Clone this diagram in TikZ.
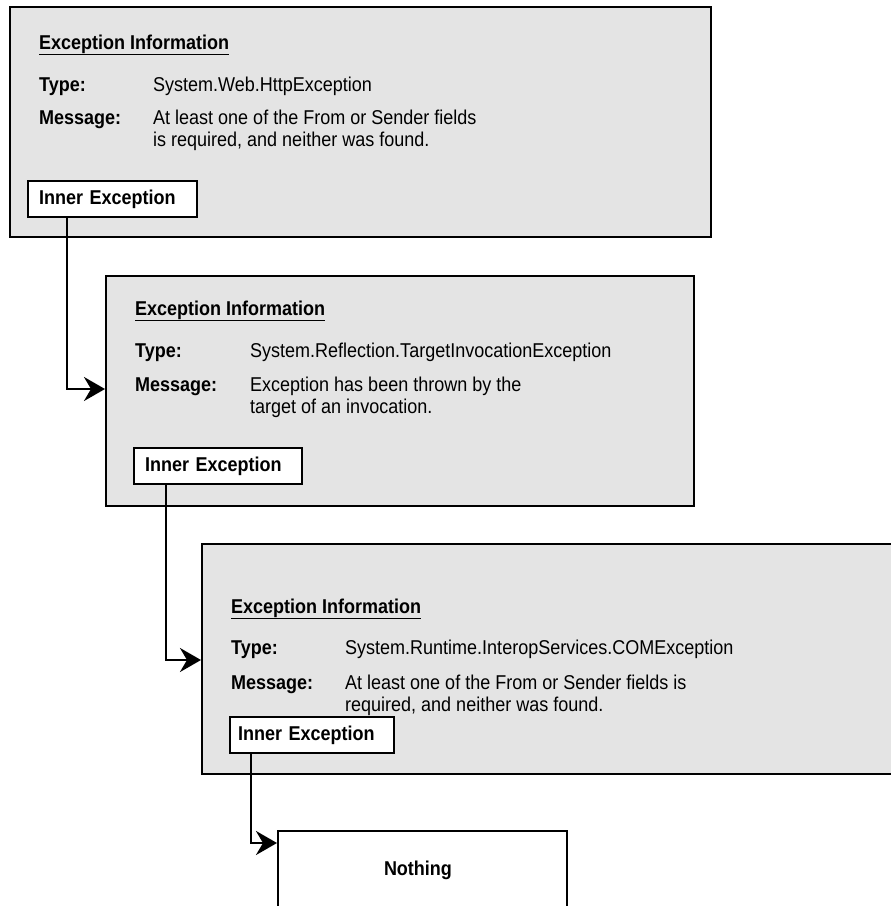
\documentclass[tikz,border=0pt]{standalone}
\usepackage{fontspec}
\setmainfont[FakeStretch=0.9]{Liberation Sans}
\usetikzlibrary{arrows.meta}
\usetikzlibrary{positioning}
\definecolor{boxgray}{RGB}{228,228,228}
\newcommand{\diagsize}{\fontsize{20}{22}\selectfont}
\tikzset{
    excbox/.style={
        draw, fill=boxgray, line width=2pt,
        anchor=north west, minimum height=230pt, inner sep=0pt
    },
    innerbox/.style={
        draw, fill=white, line width=2pt, anchor=north west,
        minimum height=36pt, inner xsep=11pt, inner ysep=0pt,
        align=left, font=\diagsize\bfseries
    },
    fieldname/.style={
        anchor=base west, inner sep=0pt, font=\diagsize\bfseries
    },
    fieldtext/.style={
        anchor=base west, inner sep=0pt
    },
    link/.style={
        line width=2.5pt,
        -{Stealth[length=21pt,width=24pt,inset=7pt]}
    }
}

\begin{document}
\begin{tikzpicture}[x=1pt, y=-1pt, font=\diagsize]
\clip (0,0) rectangle (891,906);

% Kasten 1
\node[excbox, minimum width=701pt] (exc1) at (9,6) {};
\node[fieldname] (title1) at (39,49) {\underline{Exception Information}};
\node[fieldname] (type1) at (39,91) {Type:};
\node[fieldtext] (typeval1) at (153,91) {System.Web.HttpException};
\node[fieldname] (msg1) at (39,124) {Message:};
\node[fieldtext] (msgval1a) at (153,124) {At least one of the From or Sender fields};
\node[fieldtext] (msgval1b) at (153,146) {is required, and neither was found.};
\node[innerbox, minimum width=169pt, text width=147pt] (inner1) at (27,180) {Inner Exception};

% Kasten 2
\node[excbox, minimum width=588pt] (exc2) at (105,275) {};
\node[fieldname] (title2) at (135,315) {\underline{Exception Information}};
\node[fieldname] (type2) at (135,357) {Type:};
\node[fieldtext] (typeval2) at (250,357) {System.Reflection.TargetInvocationException};
\node[fieldname] (msg2) at (135,391) {Message:};
\node[fieldtext] (msgval2a) at (250,391) {Exception has been thrown by the};
\node[fieldtext] (msgval2b) at (250,413) {target of an invocation.};
\node[innerbox, minimum width=168pt, text width=146pt] (inner2) at (133,447) {Inner Exception};

% Kasten 3
\node[excbox, minimum width=730pt] (exc3) at (201,543) {};
\node[fieldname] (title3) at (231,613) {\underline{Exception Information}};
\node[fieldname] (type3) at (231,654) {Type:};
\node[fieldtext] (typeval3) at (345,654) {System.Runtime.InteropServices.COMException};
\node[fieldname] (msg3) at (231,689) {Message:};
\node[fieldtext] (msgval3a) at (345,689) {At least one of the From or Sender fields is};
\node[fieldtext] (msgval3b) at (345,711) {required, and neither was found.};
\node[innerbox, minimum width=164pt, text width=148pt, inner xsep=8pt] (inner3) at (229,716) {Inner Exception};

% Ende
\node[draw, fill=white, line width=2pt, anchor=north west, minimum width=289pt,
      minimum height=78pt, inner xsep=106pt, text width=77pt, align=left,
      font=\diagsize\bfseries] (none) at (277,830) {Nothing};

% Pfeile
\draw[link] ([xshift=40pt]inner1.south west) |- ([yshift=-114pt]exc2.north west);
\draw[link] ([xshift=33pt]inner2.south west) |- ([yshift=-117pt]exc3.north west);
\draw[link] ([xshift=22pt]inner3.south west) |- ([yshift=-13pt]none.north west);
\end{tikzpicture}
\end{document}
